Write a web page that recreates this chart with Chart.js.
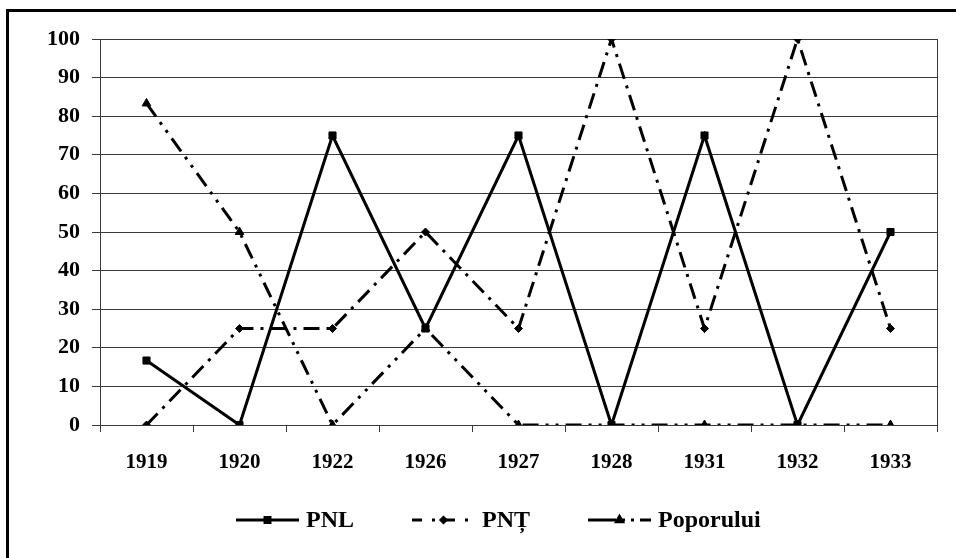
<!DOCTYPE html>
<html>
<head>
<meta charset="utf-8">
<script src="https://cdn.jsdelivr.net/npm/chart.js@4.4.0/dist/chart.umd.min.js"></script>
<style>
  html, body { margin: 0; padding: 0; background: #fff; }
</style>
</head>
<body>
<canvas id="partiesChart" width="956" height="558"></canvas>
<script>
const years = ['1919', '1920', '1922', '1926', '1927', '1928', '1931', '1932', '1933'];
const pnl = [16.7, 0, 75, 25, 75, 0, 75, 0, 50];
const pnt = [0, 25, 25, 50, 25, 100, 25, 100, 25];
const poporului = [83.3, 50, 0, 25, 0, 0, 0, 0, 0];
const yTicks = [0, 10, 20, 30, 40, 50, 60, 70, 80, 90, 100];

const serif = '"Liberation Serif", "Times New Roman", serif';
const gridColor = '#3a3a3a';

// frame, right edge of plot area and the excel-like legend
const framePlugin = {
    id: 'frame',
    beforeDraw(chart) {
        const c = chart.ctx;
        c.save();
        c.fillStyle = '#fff';
        c.fillRect(0, 0, chart.width, chart.height);
        c.restore();
    },
    afterDraw(chart) {
        const c = chart.ctx;
        const area = chart.chartArea;
        c.save();
        c.fillStyle = '#000';
        c.fillRect(6, 9, 3, chart.height - 9);
        c.fillRect(6, 9, chart.width - 6, 3);

        c.strokeStyle = gridColor;
        c.lineWidth = 1;
        c.beginPath();
        c.moveTo(Math.round(area.right) + 0.5, area.top);
        c.lineTo(Math.round(area.right) + 0.5, area.bottom + 7);
        c.stroke();

        // legend
        c.font = 'bold 24px ' + serif;
        c.textBaseline = 'middle';
        const sampleLen = 63, textGap = 7, itemGap = 58;
        let x = 236;
        const y = 520;
        chart.data.datasets.forEach(ds => {
            c.strokeStyle = '#000';
            c.lineWidth = 3;
            c.setLineDash(ds.legendDash || []);
            c.beginPath();
            c.moveTo(x, y);
            c.lineTo(x + sampleLen, y);
            c.stroke();
            c.setLineDash([]);
            Chart.helpers.drawPoint(c, {
                pointStyle: ds.pointStyle,
                radius: ds.pointRadius - 1.5,
                borderWidth: 1
            }, x + sampleLen / 2, y);
            c.fillStyle = '#000';
            c.fillText(ds.label, x + sampleLen + textGap, y + 1);
            x += sampleLen + textGap + c.measureText(ds.label).width + itemGap;
        });
        c.restore();
    }
};

const ctx = document.getElementById('partiesChart').getContext('2d');
const partiesChart = new Chart(ctx, {
    type: 'line',
    data: {
        labels: years,
        datasets: [{
            label: 'PNL',
            data: pnl,
            borderColor: '#000',
            backgroundColor: '#000',
            borderWidth: 3,
            pointStyle: 'rect',
            pointRadius: 5,
            pointBorderWidth: 1,
            tension: 0
        }, {
            label: 'PNȚ',
            data: pnt,
            borderColor: '#000',
            backgroundColor: '#000',
            borderWidth: 3,
            borderDash: [16, 7, 3, 7],
            legendDash: [10, 10, 3, 10],
            pointStyle: 'rectRot',
            pointRadius: 4,
            pointBorderWidth: 1,
            tension: 0
        }, {
            label: 'Poporului',
            data: poporului,
            borderColor: '#000',
            backgroundColor: '#000',
            borderWidth: 3,
            borderDash: [16, 7, 3, 7, 3, 7],
            legendDash: [28, 6, 3, 6, 3, 6],
            pointStyle: 'triangle',
            pointRadius: 5,
            pointBorderWidth: 1,
            tension: 0
        }]
    },
    options: {
        responsive: false,
        animation: false,
        devicePixelRatio: 1,
        layout: { padding: { top: 39, right: 19, left: 0, bottom: 0 } },
        plugins: {
            legend: { display: false },
            tooltip: { enabled: false }
        },
        scales: {
            x: {
                offset: true,
                grid: {
                    offset: true,
                    drawOnChartArea: false,
                    color: gridColor,
                    tickLength: 7
                },
                border: { color: gridColor, width: 1 },
                ticks: { color: '#000', font: { family: serif, size: 21, weight: 'bold' }, padding: 18, maxRotation: 0 },
                afterFit(scale) { scale.height = 133; }
            },
            y: {
                min: 0,
                max: 100,
                afterBuildTicks(scale) { scale.ticks = yTicks.map(v => ({ value: v })); },
                grid: { color: gridColor, tickLength: 8 },
                border: { color: gridColor, width: 1 },
                ticks: { color: '#000', font: { family: serif, size: 22, weight: 'bold' }, padding: 12 },
                afterFit(scale) { scale.width = 100; }
            }
        }
    },
    plugins: [framePlugin]
});
</script>
</body>
</html>
